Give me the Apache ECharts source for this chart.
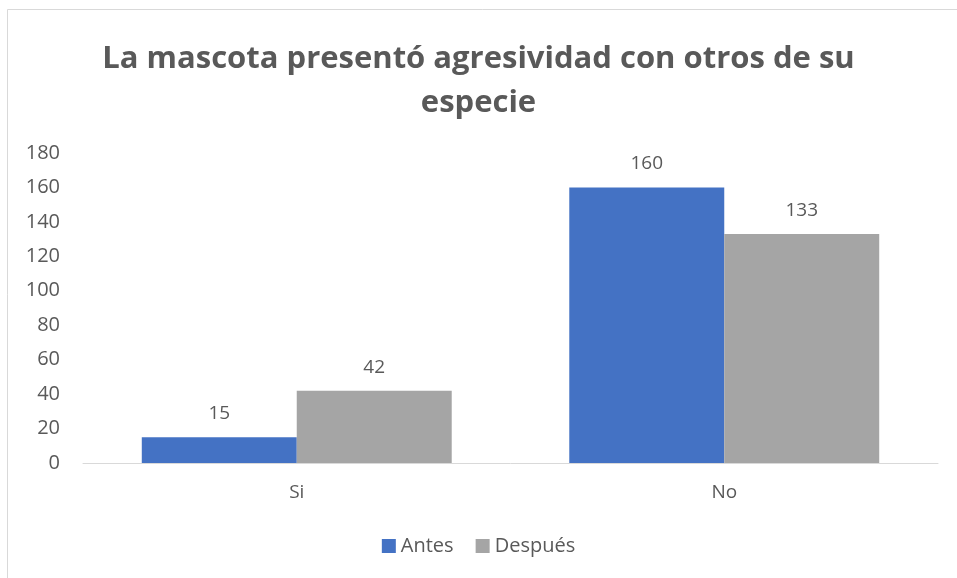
<!DOCTYPE html>
<html>
<head>
<meta charset="utf-8">
<script src="https://cdn.jsdelivr.net/npm/echarts@6/dist/echarts.min.js"></script>
<style>
  html, body { margin: 0; padding: 0; background: #fff; }
  #chart { width: 957px; height: 578px; }
</style>
</head>
<body>
<div id="chart"></div>
<script>
// datos del gráfico
const categorias = ['Si', 'No']
const antes = [15, 160]
const despues = [42, 133]
const nombresSeries = ['Antes', 'Después']

const textColor = '#595959'
const fuente = '"Open Sans", "Noto Sans", sans-serif'

const myChart = echarts.init(document.getElementById('chart'))
const option = {
  backgroundColor: '#ffffff',
  color: ['#4472C4', '#A5A5A5'],
  textStyle: { fontFamily: fuente, color: textColor },
  graphic: [
    {
      type: 'rect',
      shape: { x: 7.5, y: 9.5, width: 1000, height: 1000 },
      style: { fill: 'none', stroke: '#d9d9d9', lineWidth: 1 },
      silent: true
    }
  ],
  title: {
    text: 'La mascota presentó agresividad con otros de su\nespecie',
    left: 'center',
    top: 32,
    textStyle: {
      fontFamily: fuente,
      fontSize: 31,
      fontWeight: 'bold',
      color: textColor,
      lineHeight: 44
    }
  },
  legend: {
    data: nombresSeries,
    bottom: 17,
    left: 'center',
    itemWidth: 14,
    itemHeight: 14,
    itemGap: 22,
    icon: 'rect',
    textStyle: { fontSize: 20, color: textColor, fontFamily: fuente }
  },
  grid: { left: 83, right: 19, top: 153, bottom: 115 },
  xAxis: {
    type: 'category',
    data: categorias,
    axisLine: { lineStyle: { color: '#d9d9d9', width: 1 } },
    axisTick: { show: false },
    axisLabel: { fontSize: 19, color: textColor, margin: 20, fontFamily: fuente }
  },
  yAxis: {
    type: 'value',
    min: 0,
    max: 180,
    interval: 20,
    splitLine: { show: false },
    axisLine: { show: false },
    axisTick: { show: false },
    axisLabel: { fontSize: 20, color: textColor, margin: 23, fontFamily: fuente }
  },
  series: [
    {
      name: nombresSeries[0],
      type: 'bar',
      data: antes,
      barGap: '0%',
      barCategoryGap: '27.5%',
      label: { show: true, position: 'top', distance: 14, fontSize: 19, color: textColor, fontFamily: fuente }
    },
    {
      name: nombresSeries[1],
      type: 'bar',
      data: despues,
      barGap: '0%',
      barCategoryGap: '27.5%',
      label: { show: true, position: 'top', distance: 14, fontSize: 19, color: textColor, fontFamily: fuente }
    }
  ]
}
myChart.setOption(option)
</script>
</body>
</html>
